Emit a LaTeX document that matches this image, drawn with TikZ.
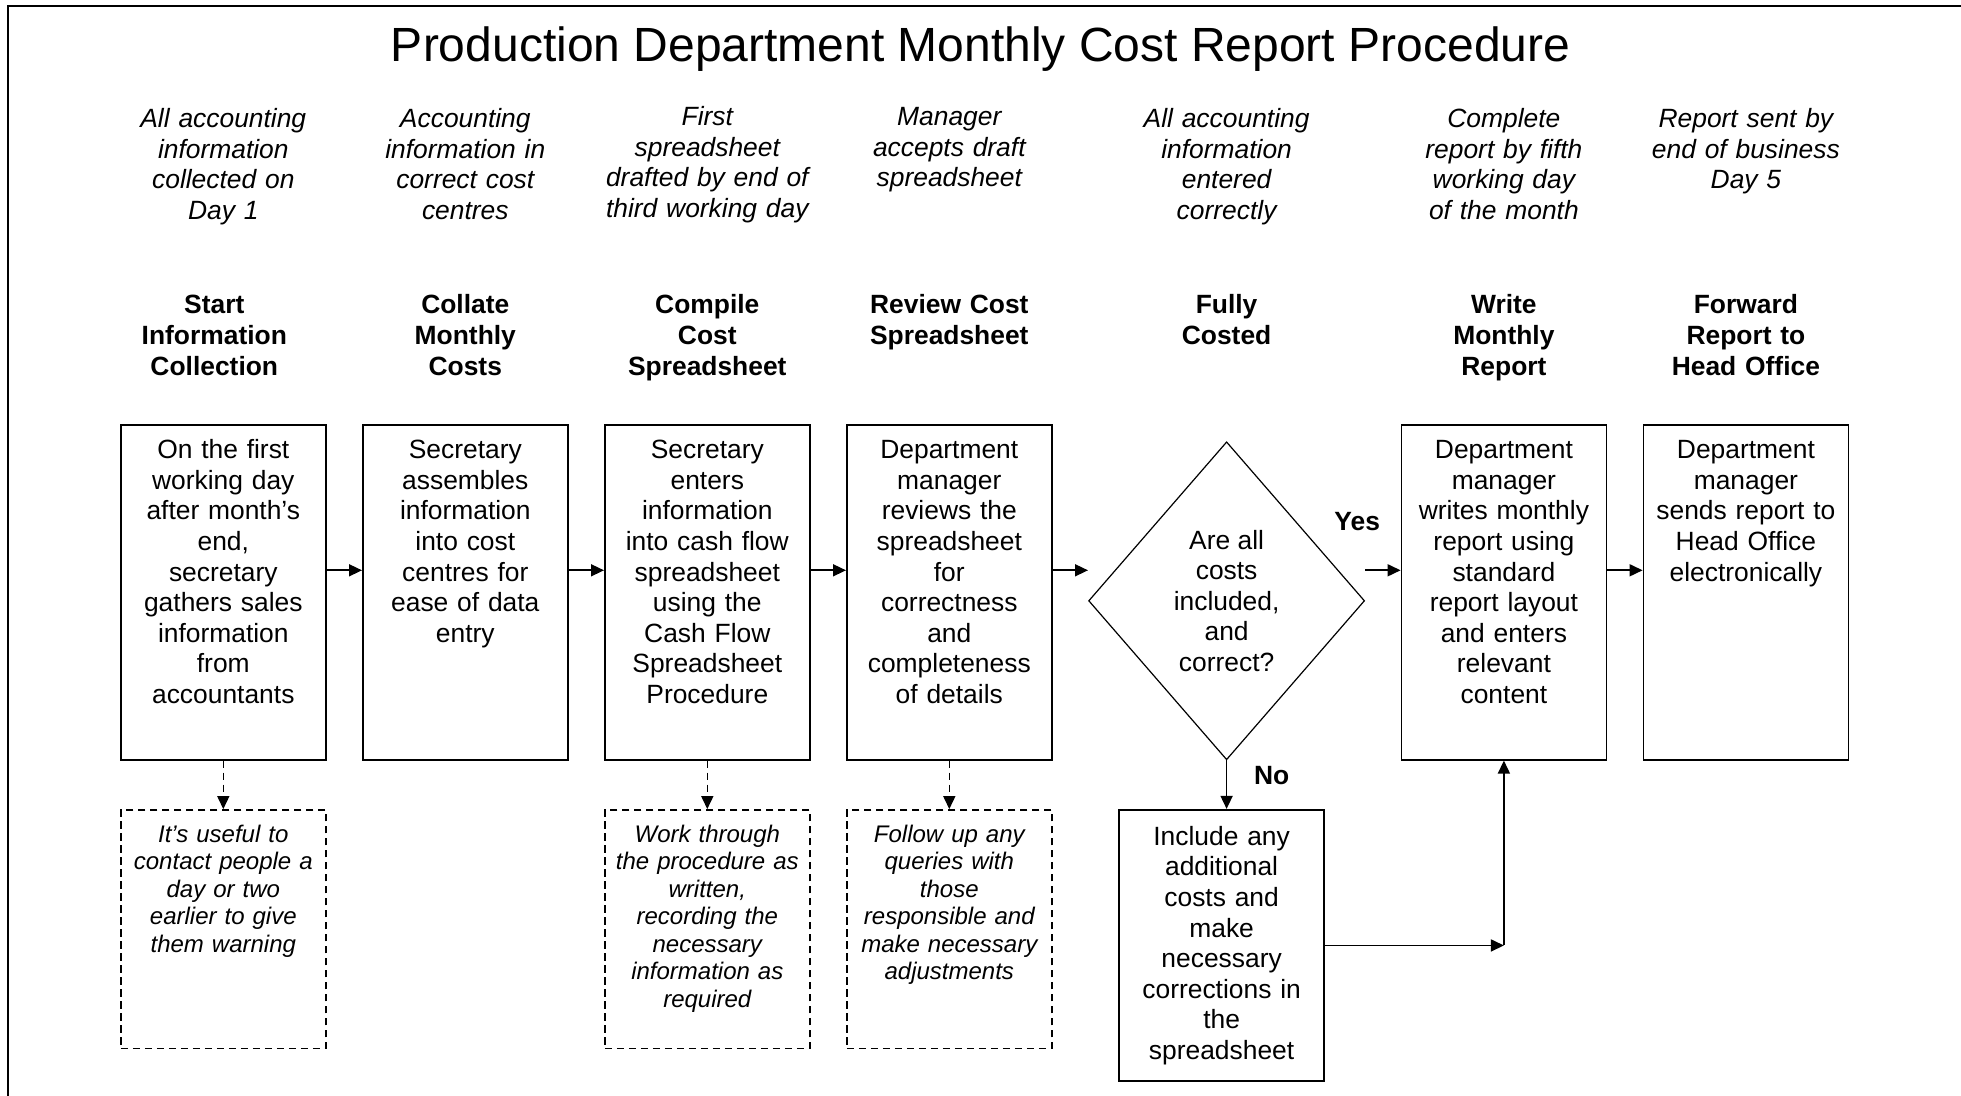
\documentclass[tikz,border=0pt]{standalone}
\usepackage{fontspec}
\setmainfont{Liberation Sans}
\usepackage{tikz}
\usetikzlibrary{arrows.meta,positioning,shapes.geometric,calc}
\tikzset{
  stepbox/.style={draw, line width=0.8pt, align=center, text width=92.5pt, inner xsep=5pt, inner ysep=5pt,
    text height=12pt, text depth=145.5pt, font=\fontsize{13.2}{15.3}\selectfont},
  fixbox/.style={stepbox, text height=12.75pt, text depth=113pt},
  tipbox/.style={stepbox, dash pattern=on 3.6pt off 2.4pt, text height=11.25pt, text depth=98pt,
    font=\fontsize{12}{13.75}\selectfont\itshape},
  decision/.style={draw, diamond, line width=0.6pt, align=center, inner sep=0pt,
    minimum width=138pt, minimum height=159pt, font=\fontsize{13.2}{15.3}\selectfont},
  goal/.style={align=center, text width=120pt, inner sep=0pt, anchor=base, font=\fontsize{13.2}{15.3}\selectfont\itshape},
  head/.style={goal, font=\fontsize{13.2}{15.3}\selectfont\bfseries},
  answer/.style={inner sep=0pt, font=\fontsize{13.2}{15.3}\selectfont\bfseries},
  arrow/.style={-{Triangle[length=6.5pt, width=6pt]}, line width=0.8pt},
  tiparrow/.style={arrow, dash pattern=on 3.6pt off 2.4pt}
}

\begin{document}
\begin{tikzpicture}[node distance=24.25pt and 17.7pt]
  \useasboundingbox (0,0) rectangle (980.5pt,-548pt);
  \draw[line width=0.85pt] (980.5pt,-2.85pt) -- (4.15pt,-2.85pt) -- (4.15pt,-548pt);

  \node[anchor=base, font=\fontsize{24}{28}\selectfont] (title) at (490.3pt,-31pt)
    {Production Department Monthly Cost Report Procedure};

  % main flow
  \node[stepbox, anchor=north west] (start) at (60pt,-212pt)
    {On the first\\ working day\\ after month’s\\ end,\\ secretary\\ gathers sales\\ information\\ from\\ accountants};
  \node[stepbox, right=of start] (collate)
    {Secretary\\ assembles\\ information\\ into cost\\ centres for\\ ease of data\\ entry};
  \node[stepbox, right=of collate] (compile)
    {Secretary\\ enters\\ information\\ into cash flow\\ spreadsheet\\ using the\\ Cash Flow\\ Spreadsheet\\ Procedure};
  \node[stepbox, right=of compile] (review)
    {Department\\ manager\\ reviews the\\ spreadsheet\\ for\\ correctness\\ and\\ completeness\\ of details};
  \node[decision, right=of review, yshift=-4.25pt] (costed)
    {Are all\\ costs\\ included,\\ and\\ correct?};
  \node[stepbox, right=of costed, yshift=4.25pt] (report)
    {Department\\ manager\\ writes monthly\\ report using\\ standard\\ report layout\\ and enters\\ relevant\\ content};
  \node[stepbox, right=of report] (forward)
    {Department\\ manager\\ sends report to\\ Head Office\\ electronically};
  \node[fixbox, below=of costed, xshift=-2.5pt] (fix)
    {Include any\\ additional\\ costs and\\ make\\ necessary\\ corrections in\\ the\\ spreadsheet};

  % tips
  \node[tipbox, below=of start] (starttip)
    {It’s useful to\\ contact people a\\ day or two\\ earlier to give\\ them warning};
  \node[tipbox, below=of compile] (compiletip)
    {Work through\\ the procedure as\\ written,\\ recording the\\ necessary\\ information as\\ required};
  \node[tipbox, below=of review] (reviewtip)
    {Follow up any\\ queries with\\ those\\ responsible and\\ make necessary\\ adjustments};

  % step names
  \node[head, xshift=-4.5pt] (starthead) at ([yshift=55pt]start.north) {Start\\ Information\\ Collection};
  \node[head] (collatehead) at ([yshift=55pt]collate.north) {Collate\\ Monthly\\ Costs};
  \node[head] (compilehead) at ([yshift=55pt]compile.north) {Compile\\ Cost\\ Spreadsheet};
  \node[head] (reviewhead) at ([yshift=55pt]review.north) {Review Cost\\ Spreadsheet};
  \node[head] (costedhead) at ([yshift=55pt]costed |- start.north) {Fully\\ Costed};
  \node[head] (reporthead) at ([yshift=55pt]report.north) {Write\\ Monthly\\ Report};
  \node[head] (forwardhead) at ([yshift=55pt]forward.north) {Forward\\ Report to\\ Head Office};

  % targets
  \node[goal] (startgoal) at ([yshift=148.25pt]start.north) {All accounting\\ information\\ collected on\\ Day 1};
  \node[goal] (collategoal) at ([yshift=148.25pt]collate.north) {Accounting\\ information in\\ correct cost\\ centres};
  \node[goal] (compilegoal) at ([yshift=149.25pt]compile.north) {First\\ spreadsheet\\ drafted by end of\\ third working day};
  \node[goal] (reviewgoal) at ([yshift=149.25pt]review.north) {Manager\\ accepts draft\\ spreadsheet};
  \node[goal] (costedgoal) at ([yshift=148.25pt]costed |- start.north) {All accounting\\ information\\ entered\\ correctly};
  \node[goal] (reportgoal) at ([yshift=148.25pt]report.north) {Complete\\ report by fifth\\ working day\\ of the month};
  \node[goal] (forwardgoal) at ([yshift=148.25pt]forward.north) {Report sent by\\ end of business\\ Day 5};

  \node[answer] (yes) at ([shift={(-4pt,35.5pt)}]report.west -| costed.east) {Yes};
  \node[answer] (no) at ([shift={(22.5pt,-7.5pt)}]costed.south) {No};

  \draw[arrow] ([yshift=11pt]start.east) -- ([yshift=11pt]start.east -| collate.west);
  \draw[arrow] ([yshift=11pt]collate.east) -- ([yshift=11pt]collate.east -| compile.west);
  \draw[arrow] ([yshift=11pt]compile.east) -- ([yshift=11pt]compile.east -| review.west);
  \draw[arrow] ([yshift=11pt]review.east) -- ([yshift=11pt]review.east -| costed.west);
  \draw[arrow] ([yshift=11pt]report.west -| costed.east) -- ([yshift=11pt]report.west);
  \draw[arrow] ([yshift=11pt]report.east) -- ([yshift=11pt]report.east -| forward.west);
  \draw[arrow] (costed.south) -- (costed.south |- fix.north);
  \coordinate (join) at (fix.east -| report.south);
  \draw[arrow] (fix.east) -- (join);
  \draw[arrow] (join) -- (report.south);

  \draw[tiparrow] (start.south) -- (starttip.north);
  \draw[tiparrow] (compile.south) -- (compiletip.north);
  \draw[tiparrow] (review.south) -- (reviewtip.north);
\end{tikzpicture}
\end{document}
